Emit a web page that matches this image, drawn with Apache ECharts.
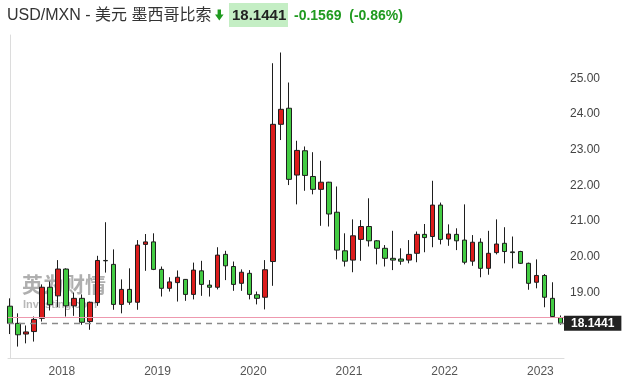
<!DOCTYPE html>
<html>
<head>
<meta charset="utf-8">
<script src="https://cdn.jsdelivr.net/npm/echarts@6/dist/echarts.min.js"></script>
<style>
html,body{margin:0;padding:0;background:#fff;}
#chart{width:627px;height:383px;}
</style>
</head>
<body>
<div id="chart"></div>
<script>
// Monthly candles, Jun 2017 - Mar 2023
const months = ['2017-06','2017-07','2017-08','2017-09','2017-10','2017-11','2017-12',
'2018-01','2018-02','2018-03','2018-04','2018-05','2018-06','2018-07','2018-08','2018-09','2018-10','2018-11','2018-12',
'2019-01','2019-02','2019-03','2019-04','2019-05','2019-06','2019-07','2019-08','2019-09','2019-10','2019-11','2019-12',
'2020-01','2020-02','2020-03','2020-04','2020-05','2020-06','2020-07','2020-08','2020-09','2020-10','2020-11','2020-12',
'2021-01','2021-02','2021-03','2021-04','2021-05','2021-06','2021-07','2021-08','2021-09','2021-10','2021-11','2021-12',
'2022-01','2022-02','2022-03','2022-04','2022-05','2022-06','2022-07','2022-08','2022-09','2022-10','2022-11','2022-12',
'2023-01','2023-02','2023-03'];
const openV  = [18.62,18.14,17.84,17.91,18.28,19.15,18.91, 19.66,18.63,18.84,18.19,18.72,19.90,19.79,18.67,19.09,18.73,20.35,20.42,
 19.65,19.12,19.28,19.37,18.95,19.61,19.21,19.15,20.07,19.73,19.26,19.54, 18.94,18.87,19.87,23.71,24.16,22.29,22.97,22.25,21.89,22.09,21.25,20.17,
 19.91,20.49,20.85,20.45,20.24,19.96,19.94,19.91,20.10,20.63,20.57,21.45, 20.50,20.63,20.47,19.88,20.41,19.68,20.12,20.38,20.14,20.15,19.82,19.29,
 19.48,18.84,18.30];
const closeV = [18.14,17.82,17.90,18.25,19.15,18.66,19.66, 18.63,18.84,18.17,18.73,19.90,19.89,18.67,19.09,18.73,20.33,20.42,19.65,
 19.12,19.30,19.43,18.95,19.63,19.23,19.15,20.05,19.75,19.23,19.57,18.95, 18.84,19.64,23.71,24.13,22.17,22.98,22.28,21.89,22.09,21.20,20.19,19.88,
 20.59,20.85,20.45,20.24,19.96,19.91,19.88,20.07,20.63,20.54,21.45,20.49, 20.64,20.45,19.85,20.41,19.68,20.10,20.36,20.15,20.12,19.82,19.26,19.48,
 18.87,18.33,18.1441];
const lowV   = [17.84,17.49,17.58,17.63,18.19,18.50,18.59, 18.33,18.35,18.10,17.96,18.63,19.56,18.52,18.42,18.66,18.52,19.61,19.63,
 18.89,19.03,18.75,18.77,18.81,18.91,18.89,19.09,19.35,19.05,19.05,18.81, 18.67,18.53,19.19,23.27,22.01,21.47,21.85,21.75,20.87,20.85,19.93,19.73,
 19.57,19.89,20.29,19.79,19.73,19.63,19.78,19.82,19.85,20.13,20.27,20.35, 20.31,20.19,19.79,19.75,19.43,19.50,20.07,19.82,19.68,19.80,19.08,19.12,
 18.59,18.30,18.10];
const highV  = [18.84,18.42,18.08,18.33,19.23,19.31,19.91, 19.68,19.00,18.95,18.75,20.03,20.97,20.21,19.37,19.68,20.47,20.64,20.66,
 19.73,19.43,19.62,19.38,19.84,19.89,19.35,20.27,20.17,19.87,19.65,19.63, 19.03,19.91,25.42,25.72,24.88,23.25,23.09,22.93,22.69,22.10,21.97,20.66,
 21.05,21.03,21.64,20.47,20.33,20.73,20.24,20.47,20.71,20.92,22.13,21.52, 20.91,20.80,21.47,20.61,20.52,20.73,21.05,20.83,20.57,20.17,19.84,19.93,
 19.52,19.29,18.36];
const yearLabels = ['2018','2019','2020','2021','2022','2023'];
const priceTicks = [19,20,21,22,23,24,25];
const lastPrice = 18.1441;
const prevClose = 18.3010;
const titleText = 'USD/MXN - 美元 墨西哥比索';
const priceText = '18.1441';
const changeText = '-0.1569  (-0.86%)';

// x position of each candle = month index; year ticks at the boundary before January
const candles = months.map((m, i) => [i, openV[i], closeV[i], lowV[i], highV[i]]);
const yearPos = yearLabels.map(y => months.indexOf(y + '-01') - 0.5);

const FONT = "'Liberation Sans', 'Noto Sans CJK SC', Arial, sans-serif";
const chart = echarts.init(document.getElementById('chart'), null, {renderer: 'canvas'});
chart.setOption({
  animation: false,
  backgroundColor: '#fff',
  grid: {left: 8, right: 63, top: 35, bottom: 25},
  xAxis: {
    type: 'value', min: -0.25, max: 69.46,
    axisLine: {show: true, lineStyle: {color: '#dcdcdc', width: 1}},
    axisTick: {show: false, customValues: yearPos},
    axisLabel: {customValues: yearPos, color: '#555', fontSize: 12, fontFamily: FONT, margin: 8,
      formatter: v => { const k = yearPos.findIndex(p => Math.abs(p - v) < 1e-6); return k >= 0 ? yearLabels[k] : ''; }},
    splitLine: {show: false}
  },
  yAxis: {
    type: 'value', position: 'right', min: 17.17, max: 26.21, scale: true,
    axisLine: {show: true, lineStyle: {color: '#dcdcdc'}},
    axisTick: {show: false, customValues: priceTicks},
    axisLabel: {customValues: priceTicks, color: '#444', fontSize: 12, fontFamily: FONT, margin: 6,
      formatter: v => v.toFixed(2)},
    splitLine: {show: false}
  },
  series: [{
    type: 'candlestick',
    data: candles,
    encode: {x: 0, y: [1, 2, 3, 4]},
    barWidth: 5,
    itemStyle: {color: '#dc1c1c', color0: '#43cc43', borderColor: '#1e1e1e', borderColor0: '#1e1e1e', borderWidth: 1},
    markLine: {
      silent: true, symbol: 'none',
      data: [
        {yAxis: prevClose, lineStyle: {color: '#ee98ae', type: 'solid', width: 1}, label: {show: false}},
        {yAxis: lastPrice, lineStyle: {color: '#8a8a8a', type: [6, 5], width: 1.3},
          label: {show: true, position: 'end', distance: 0, formatter: priceText, color: '#fff',
            backgroundColor: '#222', fontSize: 12, fontWeight: 'bold', fontFamily: FONT,
            padding: [2, 7, 1, 7], lineHeight: 12}}
      ]
    }
  }],
  graphic: [
    {type: 'text', left: 22, top: 274, z: -1, silent: true,
      style: {text: '英为财情', fill: 'rgba(95,95,95,0.5)', font: "bold 21px 'Noto Sans CJK SC', sans-serif"}},
    {type: 'text', left: 23, top: 299, z: -1, silent: true,
      style: {text: 'Investing.com', fill: 'rgba(95,95,95,0.45)', font: "bold 11px " + FONT}},
    {type: 'text', x: 7, y: 16, style: {text: titleText, fill: '#333', font: '16px ' + FONT, verticalAlign: 'middle'}},
    {type: 'polygon', shape: {points: [[217.6,9.5],[221,9.5],[221,14.5],[223.6,14.5],[219.3,20.5],[215,14.5],[217.6,14.5]]},
      style: {fill: '#1f9a1f'}},
    {type: 'rect', shape: {x: 229, y: 3, width: 59, height: 24}, style: {fill: '#c4eec4'}},
    {type: 'text', x: 232, y: 16, style: {text: priceText, fill: '#222', font: 'bold 15px ' + FONT, verticalAlign: 'middle'}},
    {type: 'text', x: 294, y: 16, style: {text: changeText, fill: '#1f9a1f', font: 'bold 14px ' + FONT, verticalAlign: 'middle'}}
  ]
});
</script>
</body>
</html>
